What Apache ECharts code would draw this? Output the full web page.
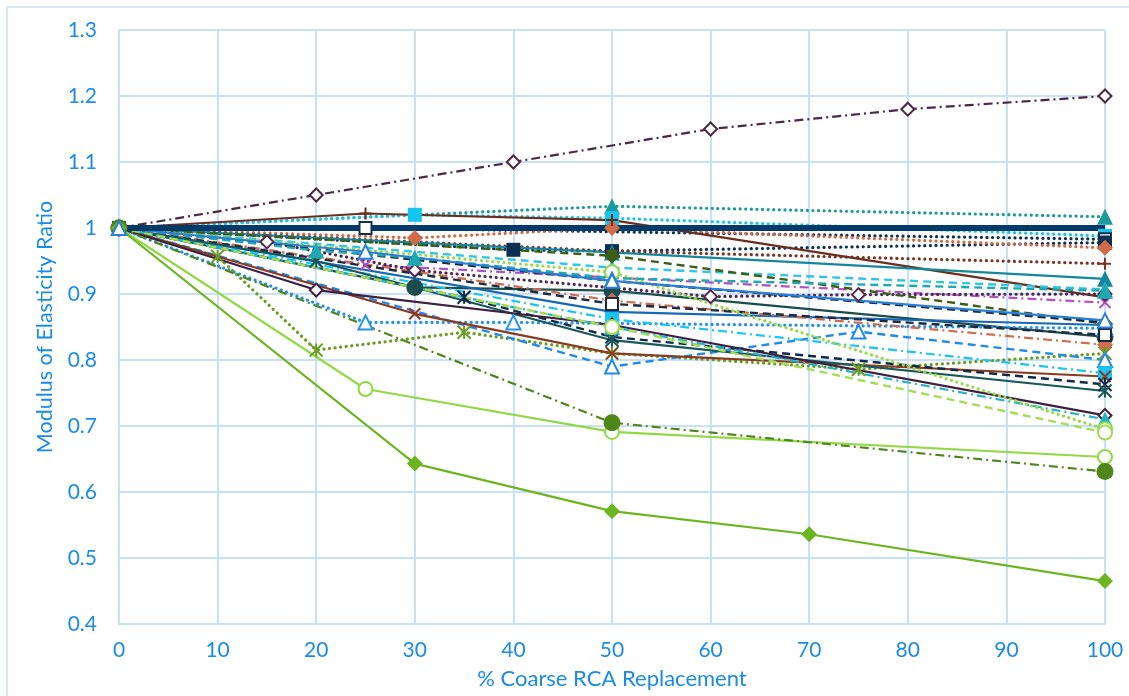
<!DOCTYPE html>
<html>
<head>
<meta charset="utf-8">
<script src="https://cdn.jsdelivr.net/npm/echarts@6/dist/echarts.min.js"></script>
<style>
  html, body { margin: 0; padding: 0; background: #ffffff; }
  #chart { width: 1129px; height: 696px; }
</style>
</head>
<body>
<div id="chart"></div>
<script>
// Modulus of elasticity ratio vs. % coarse recycled concrete aggregate, one array per study.
const xTicks = [0, 10, 20, 30, 40, 50, 60, 70, 80, 90, 100];
const yTicks = [0.4, 0.5, 0.6, 0.7, 0.8, 0.9, 1.0, 1.1, 1.2, 1.3];

const studyA = [[0, 1], [20, 1.05], [40, 1.10], [60, 1.15], [80, 1.18], [100, 1.20]];
const studyB = [[0, 1], [50, 1.033], [100, 1.017]];
const studyC = [[0, 1], [30, 1.02], [50, 1.015], [100, 0.988]];
const studyD = [[0, 1], [25, 1.0], [100, 0.983]];
const studyE = [[0, 1], [40, 0.967], [50, 0.965], [100, 0.978]];
const studyF = [[0, 1], [30, 0.985], [50, 1.0], [100, 0.97]];
const studyG = [[0, 1], [50, 0.965], [100, 0.946]];
const studyH = [[0, 1], [25, 1.022], [50, 1.012], [100, 0.895]];
const studyI = [[0, 1], [50, 0.963], [100, 0.923]];
const studyJ = [[0, 1], [50, 0.94], [100, 0.907]];
const studyK = [[0, 1], [25, 0.944], [50, 0.925], [100, 0.887]];
const studyL = [[0, 1], [15, 0.979], [30, 0.936], [60, 0.896], [75, 0.899], [100, 0.90]];
const studyM = [[0, 1], [50, 0.958], [100, 0.855]];
const studyN = [[0, 1], [50, 0.92], [100, 0.857]];
const studyO = [[0, 1], [30, 0.91], [50, 0.905], [100, 0.835]];
const studyP = [[0, 1], [50, 0.873], [100, 0.853]];
const studyQ = [[0, 1], [25, 0.857], [40, 0.857], [100, 0.848]];
const studyR = [[0, 1], [50, 0.89], [100, 0.823]];
const studyS = [[0, 1], [50, 0.885], [100, 0.838]];
const studyT = [[0, 1], [10, 0.957], [20, 0.815], [35, 0.842], [50, 0.81], [75, 0.786], [100, 0.81]];
const studyU = [[0, 1], [50, 0.79], [75, 0.843], [100, 0.80]];
const studyV = [[0, 1], [50, 0.862], [100, 0.78]];
const studyW = [[0, 1], [30, 0.87], [50, 0.81], [100, 0.775]];
const studyX = [[0, 1], [35, 0.895], [50, 0.835], [100, 0.763]];
const studyY = [[0, 1], [20, 0.95], [50, 0.83], [100, 0.753]];
const studyZ = [[0, 1], [20, 0.906], [50, 0.853], [100, 0.716]];
const studyAA = [[0, 1], [50, 0.85], [100, 0.71]];
const studyAB = [[0, 1], [50, 0.933], [100, 0.695]];
const studyAC = [[0, 1], [50, 0.85], [100, 0.69]];
const studyAD = [[0, 1], [25, 0.756], [50, 0.691], [100, 0.653]];
const studyAE = [[0, 1], [50, 0.705], [100, 0.631]];
const studyAF = [[0, 1], [30, 0.643], [50, 0.571], [70, 0.536], [100, 0.465]];
const studyAG = [[0, 1], [20, 0.966], [30, 0.955], [50, 0.924], [100, 0.905]];
const studyAH = [[0, 1], [25, 0.964], [50, 0.92], [100, 0.86]];
const studyAI = [[0, 1], [100, 1.0]];

// Stroke patterns and marker shapes
const dashes = {
  solid: { type: 'solid', width: 2.2, cap: 'butt' },
  dot: { type: [0.1, 5.5], width: 3.2, cap: 'round' },
  dash: { type: [8, 5], width: 2.4, cap: 'butt' },
  dashdot: { type: [9, 4, 2, 4], width: 2.2, cap: 'butt' },
  thick: { type: 'solid', width: 6, cap: 'butt' }
};
const marks = {
  xmark: 'path://M0,0L10,10M10,0L0,10',
  plus: 'path://M5,0L5,10M0,5L10,5',
  star: 'path://M5,0L5,10M0,0L10,10M10,0L0,10'
};

const looks = [
  { data: studyA, color: '#4a2747', dash: 'dashdot', symbol: 'emptyDiamond' },
  { data: studyB, color: '#1b9a9c', dash: 'dot', symbol: 'triangle' },
  { data: studyC, color: '#12c6f0', dash: 'dot', symbol: 'rect' },
  { data: studyD, color: '#10324e', dash: 'dot', symbol: 'emptyRect' },
  { data: studyE, color: '#0d3050', dash: 'dot', symbol: 'rect' },
  { data: studyF, color: '#cd6b4b', dash: 'dot', symbol: 'diamond' },
  { data: studyG, color: '#7a3520', dash: 'dot', symbol: 'plus' },
  { data: studyH, color: '#6b2e1c', dash: 'solid', symbol: 'plus' },
  { data: studyI, color: '#14869e', dash: 'solid', symbol: 'triangle' },
  { data: studyJ, color: '#2fc6e6', dash: 'dash', symbol: 'triangle' },
  { data: studyK, color: '#b24fc4', dash: 'dashdot', symbol: 'xmark' },
  { data: studyL, color: '#502652', dash: 'dot', symbol: 'emptyDiamond' },
  { data: studyM, color: '#3d5f14', dash: 'dash', symbol: 'diamond' },
  { data: studyN, color: '#18283c', dash: 'dash', symbol: 'none' },
  { data: studyO, color: '#1c4c4c', dash: 'solid', symbol: 'circle' },
  { data: studyP, color: '#1568b6', dash: 'solid', symbol: 'diamond' },
  { data: studyQ, color: '#2192f0', dash: 'dot', symbol: 'emptyTriangle' },
  { data: studyR, color: '#cf6e4f', dash: 'dashdot', symbol: 'diamond' },
  { data: studyS, color: '#1b2a3f', dash: 'dash', symbol: 'emptyRect' },
  { data: studyT, color: '#6a9c22', dash: 'dot', symbol: 'star' },
  { data: studyU, color: '#2189ea', dash: 'dash', symbol: 'emptyTriangle' },
  { data: studyV, color: '#19c5f2', dash: 'dashdot', symbol: 'rect' },
  { data: studyW, color: '#8b3a22', dash: 'solid', symbol: 'xmark' },
  { data: studyX, color: '#0f2b49', dash: 'dash', symbol: 'star' },
  { data: studyY, color: '#17585a', dash: 'solid', symbol: 'star' },
  { data: studyZ, color: '#3f1f40', dash: 'solid', symbol: 'emptyDiamond' },
  { data: studyAA, color: '#22b4c4', dash: 'dashdot', symbol: 'triangle' },
  { data: studyAB, color: '#9bd94c', dash: 'dot', symbol: 'emptyCircle' },
  { data: studyAC, color: '#a2dd55', dash: 'dash', symbol: 'emptyCircle' },
  { data: studyAD, color: '#93d846', dash: 'solid', symbol: 'emptyCircle' },
  { data: studyAE, color: '#4f861a', dash: 'dashdot', symbol: 'circle' },
  { data: studyAF, color: '#6db520', dash: 'solid', symbol: 'diamond' },
  { data: studyAG, color: '#1ea8b0', dash: 'dash', symbol: 'triangle' },
  { data: studyAH, color: '#2a7fd8', dash: 'solid', symbol: 'emptyTriangle' },
  { data: studyAI, color: '#023b69', dash: 'thick', symbol: 'none' }
];

const sizeFor = {
  emptyDiamond: 13, diamond: 16, triangle: 16, emptyTriangle: 14,
  rect: 14, emptyRect: 12, circle: 17, emptyCircle: 14,
  xmark: 11, plus: 12, star: 13, none: 0
};

const series = looks.map(function (s) {
  const ls = dashes[s.dash];
  const isPath = marks[s.symbol] !== undefined;
  const isEmpty = s.symbol.indexOf('empty') === 0;
  return {
    type: 'line',
    data: s.data,
    symbol: isPath ? marks[s.symbol] : s.symbol,
    symbolSize: sizeFor[s.symbol],
    showSymbol: s.symbol !== 'none',
    animation: false,
    silent: true,
    lineStyle: { color: s.color, width: ls.width, type: ls.type, cap: ls.cap },
    itemStyle: {
      color: s.color,
      borderColor: s.color,
      borderWidth: isPath || isEmpty ? 2 : 0
    }
  };
});

const blue = '#1a8be8';
const gridBlue = '#c6e1fa';
const font = 'Lato, "Open Sans", sans-serif';

const chart = echarts.init(document.getElementById('chart'), null, { renderer: 'canvas' });
chart.setOption({
  backgroundColor: '#ffffff',
  animation: false,
  graphic: [{
    type: 'rect',
    shape: { x: 7, y: 7, width: 1300, height: 900 },
    style: { fill: 'none', stroke: '#c9e2f8', lineWidth: 1.5 },
    silent: true, z: -10
  }],
  grid: { left: 119, right: 24, top: 30, bottom: 72, containLabel: false },
  xAxis: {
    type: 'value',
    min: xTicks[0],
    max: xTicks[xTicks.length - 1],
    interval: xTicks[1] - xTicks[0],
    name: '% Coarse RCA Replacement',
    nameLocation: 'middle',
    nameGap: 44,
    nameTextStyle: { color: blue, fontSize: 22, fontFamily: font },
    axisLine: { show: true, lineStyle: { color: gridBlue, width: 2 } },
    axisTick: { show: false },
    axisLabel: { color: blue, fontSize: 21, fontFamily: font, margin: 16 },
    splitLine: { show: true, lineStyle: { color: gridBlue, width: 2 } }
  },
  yAxis: {
    type: 'value',
    min: yTicks[0],
    max: yTicks[yTicks.length - 1],
    interval: 0.1,
    name: 'Modulus of Elasticity Ratio',
    nameLocation: 'middle',
    nameGap: 63,
    nameRotate: 90,
    nameTextStyle: { color: blue, fontSize: 21.5, fontFamily: font },
    axisLine: { show: true, lineStyle: { color: gridBlue, width: 2 } },
    axisTick: { show: false },
    axisLabel: {
      color: blue, fontSize: 21, fontFamily: font, margin: 22,
      formatter: function (v) { return String(Math.round(v * 10) / 10); }
    },
    splitLine: { show: true, lineStyle: { color: gridBlue, width: 2 } }
  },
  series: series
});
</script>
</body>
</html>
